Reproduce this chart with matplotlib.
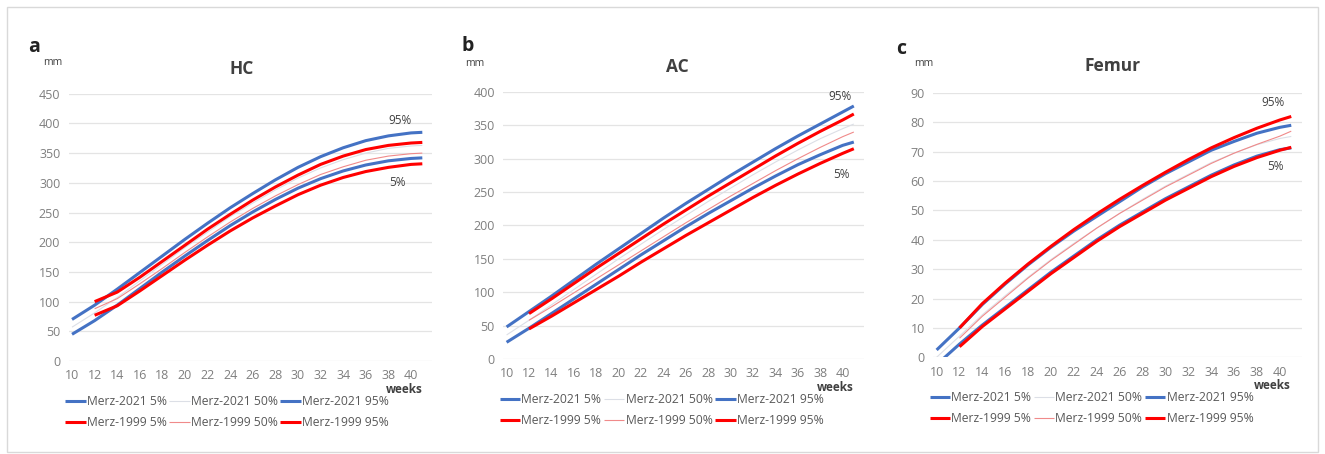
import matplotlib.pyplot as plt
from matplotlib.patches import Rectangle

plt.rcParams['font.family'] = ['Open Sans', 'DejaVu Sans']

weeks_2021 = [10, 12, 14, 16, 18, 20, 22, 24, 26, 28, 30, 32, 34, 36, 38, 40, 41]
weeks_1999 = [12, 14, 16, 18, 20, 22, 24, 26, 28, 30, 32, 34, 36, 38, 40, 41]
series_names = ["Merz-2021 5%", "Merz-2021 50%", "Merz-2021 95%",
                "Merz-1999 5%", "Merz-1999 50%", "Merz-1999 95%"]

# HC (mm)
hc_2021_p5 = [45, 68, 94, 122, 150, 177, 203, 228, 251, 272, 291, 307, 320, 330, 337, 341, 342]
hc_2021_p50 = [57, 81, 107, 135, 163, 191, 217, 243, 266, 288, 308, 325, 339, 350, 358, 362, 363]
hc_2021_p95 = [70, 94, 121, 149, 177, 205, 232, 258, 282, 305, 326, 344, 359, 371, 379, 384, 385]
hc_1999_p5 = [77, 93, 118, 144, 170, 195, 219, 241, 261, 280, 296, 309, 319, 326, 331, 332]
hc_1999_p50 = [88, 105, 130, 156, 183, 209, 234, 257, 278, 297, 314, 327, 338, 345, 349, 350]
hc_1999_p95 = [100, 116, 141, 168, 195, 222, 247, 271, 293, 313, 331, 345, 356, 363, 367, 368]

# AC (mm)
ac_2021_p5 = [25, 46, 68, 90, 112, 134, 156, 177, 198, 218, 237, 256, 274, 291, 306, 320, 325]
ac_2021_p50 = [36, 58, 81, 104, 127, 150, 172, 194, 215, 236, 256, 276, 295, 313, 330, 345, 352]
ac_2021_p95 = [48, 71, 94, 118, 142, 165, 188, 211, 233, 254, 275, 295, 315, 334, 352, 370, 379]
ac_1999_p5 = [45, 64, 84, 104, 124, 145, 165, 185, 204, 223, 242, 260, 277, 293, 308, 315]
ac_1999_p50 = [58, 78, 99, 120, 141, 162, 183, 204, 224, 244, 263, 282, 300, 317, 333, 340]
ac_1999_p95 = [68, 90, 113, 136, 158, 180, 202, 223, 244, 264, 284, 304, 323, 341, 358, 367]

# Femur (mm)
fl_2021_p5 = [-2.5, 4.5, 11, 17, 23, 29, 34.5, 40, 45, 49.5, 54, 58, 62, 65.5, 68.5, 70.7, 71.3]
fl_2021_p50 = [0, 7.2, 14.5, 21, 27.3, 33.3, 38.8, 44, 49, 53.8, 58.3, 62.3, 66.3, 69.5, 72.4, 74.5, 75.2]
fl_2021_p95 = [2.5, 10, 18, 25, 31.5, 37.5, 43, 48, 53, 58, 62.5, 66.5, 70.5, 73.5, 76.3, 78.3, 79]
fl_1999_p5 = [3.6, 10.5, 16.5, 22.5, 28.5, 34, 39.5, 44.5, 49, 53.5, 57.5, 61.5, 65, 68, 70.5, 71.5]
fl_1999_p50 = [6.5, 14, 20.5, 27, 33, 38.5, 44, 49, 53.5, 58, 62, 66, 69.5, 72.5, 75.3, 77]
fl_1999_p95 = [10, 18.3, 25.3, 31.8, 37.8, 43.5, 48.8, 53.8, 58.5, 63, 67.3, 71.3, 74.8, 78, 80.8, 82]

BLUE = "#4472c4"
RED = "#ff0000"
styles = [(BLUE, 2.2), ("#dcdfe6", 0.8), (BLUE, 2.2),
          (RED, 2.2), ("#f08a8a", 0.8), (RED, 2.2)]
TXT = "#595959"

fig = plt.figure(figsize=(13.25, 4.54), dpi=100)
fig.patches.append(Rectangle((7 / 1325, 2 / 454), 1311 / 1325, 445 / 454,
                             transform=fig.transFigure, fill=False,
                             edgecolor="#d9d9d9", linewidth=1))


def panel(rect, letter, letter_xy, title, title_xy, mm_xy, ymax, ystep,
          data, p95_xy, p5_xy):
    ax = fig.add_axes(rect)
    lines = []
    for i, ys in enumerate(data):
        wk = weeks_2021 if i < 3 else weeks_1999
        col, lw = styles[i]
        ln, = ax.plot(wk, ys, color=col, linewidth=lw, label=series_names[i],
                      solid_capstyle="butt")
        lines.append(ln)
    ax.set_xlim(9.7, 41.9)
    ax.set_ylim(0, ymax)
    ax.set_xticks(range(10, 41, 2))
    ax.set_yticks(range(0, ymax + 1, ystep))
    ax.grid(axis="y", color="#e4e4e4", linewidth=0.9)
    ax.set_axisbelow(True)
    for s in ax.spines.values():
        s.set_visible(False)
    ax.tick_params(length=0, labelsize=9, colors="#7f7f7f")
    ax.tick_params(axis="x", pad=6)
    ax.tick_params(axis="y", pad=6)
    ax.text(title_xy[0], title_xy[1], title, transform=ax.transAxes,
            ha="center", va="center", fontsize=12.5, fontweight="bold", color="#404040")
    ax.text(mm_xy[0], mm_xy[1], "mm", transform=ax.transAxes,
            ha="center", va="center", fontsize=7.5, color="#404040")
    ax.text(0.922, -0.108, "weeks", transform=ax.transAxes,
            ha="center", va="center", fontsize=8.5, fontweight="bold", color="#404040")
    ax.text(p95_xy[0], p95_xy[1], "95%", ha="center", va="center",
            fontsize=8.5, color="#404040")
    ax.text(p5_xy[0], p5_xy[1], "5%", ha="center", va="center",
            fontsize=8.5, color="#404040")
    fig.text(letter_xy[0] / 1325, 1 - letter_xy[1] / 454, letter,
             ha="center", va="center", fontsize=14, fontweight="bold", color="#222222")
    order = [0, 3, 1, 4, 2, 5]
    ax.legend([lines[k] for k in order], [series_names[k] for k in order],
              loc="upper left", bbox_to_anchor=(-0.01, -0.128), ncol=3,
              frameon=False, fontsize=8.7, labelcolor=TXT, handlelength=1.7,
              handletextpad=0.1, columnspacing=0.2, labelspacing=0.68,
              borderpad=0, borderaxespad=0)
    return ax


panel([0.0518, 0.2048, 0.2746, 0.5888], "a", (34, 47), "HC", (0.4765, 1.092),
      (-0.0437, 1.115), 450, 50,
      [hc_2021_p5, hc_2021_p50, hc_2021_p95, hc_1999_p5, hc_1999_p50, hc_1999_p95],
      (39.0, 405), (38.8, 300))
panel([0.3798, 0.2093, 0.2722, 0.5881], "b", (468, 46), "AC", (0.483, 1.0925),
      (-0.078, 1.107), 400, 50,
      [ac_2021_p5, ac_2021_p50, ac_2021_p95, ac_1999_p5, ac_1999_p50, ac_1999_p95],
      (39.8, 393), (39.85, 276))
panel([0.7043, 0.2130, 0.2780, 0.5822], "c", (901.5, 49), "Femur", (0.487, 1.103),
      (-0.025, 1.112), 90, 10,
      [fl_2021_p5, fl_2021_p50, fl_2021_p95, fl_1999_p5, fl_1999_p50, fl_1999_p95],
      (39.4, 86.7), (39.6, 65.1))

fig.savefig("out.png", dpi=100)
